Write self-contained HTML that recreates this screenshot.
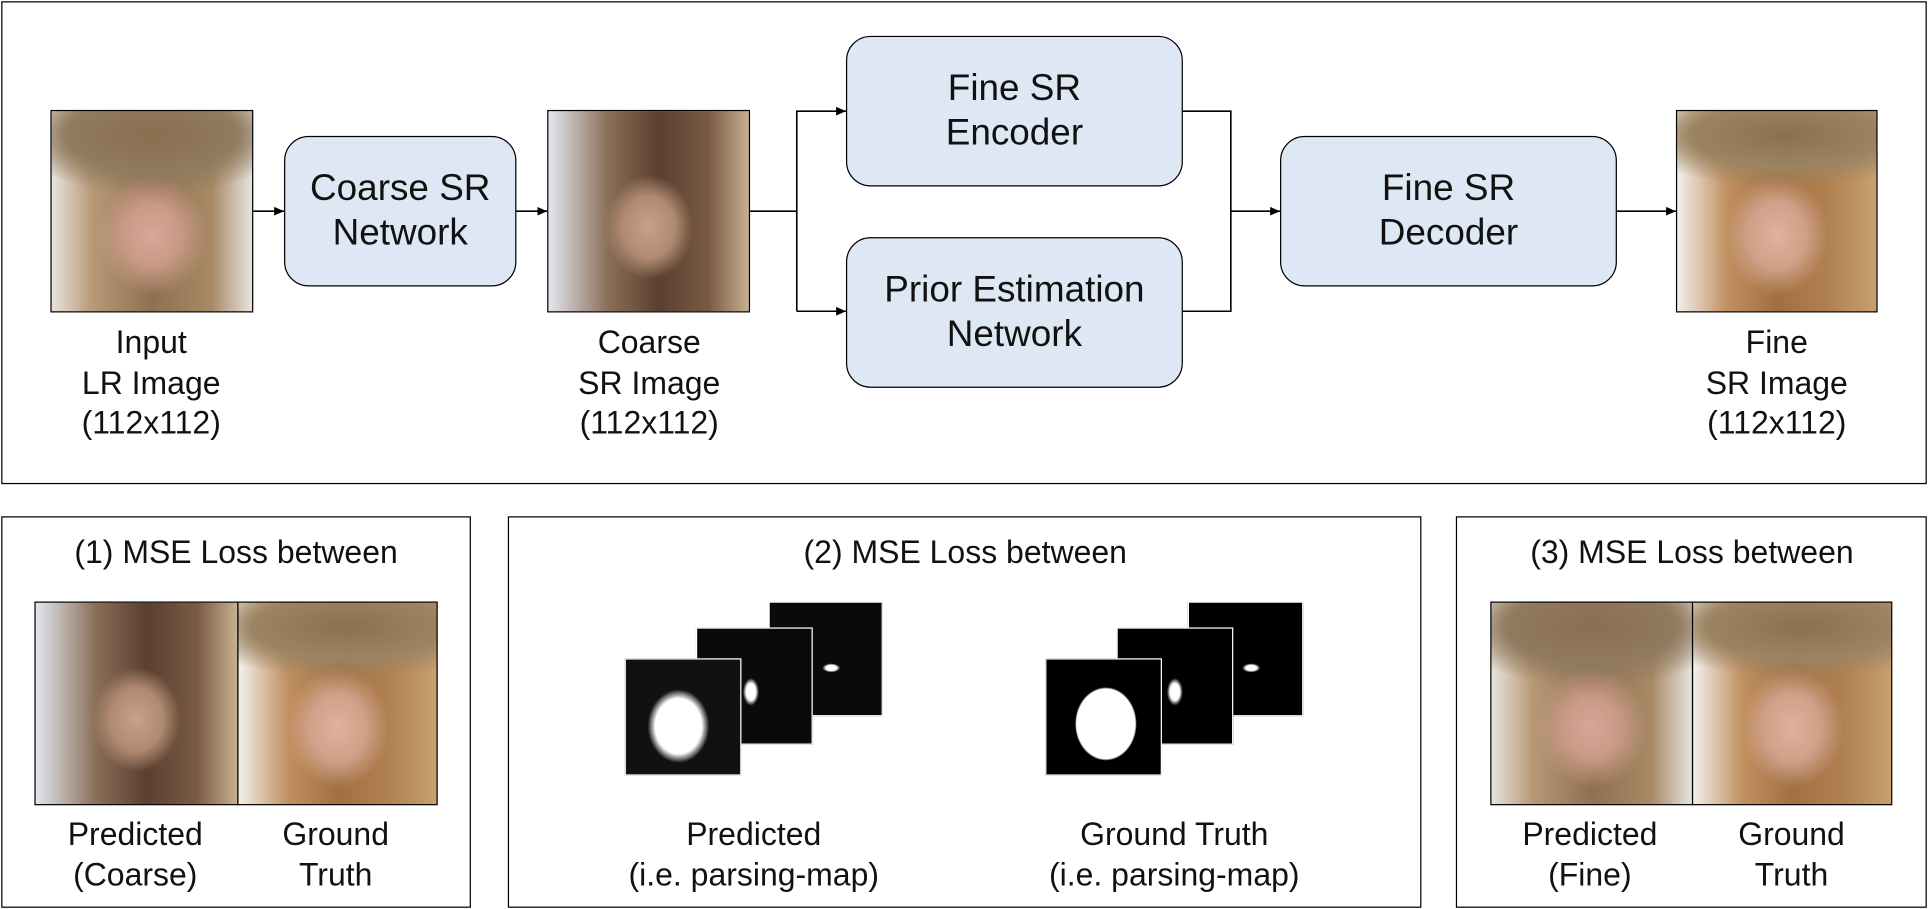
<!DOCTYPE html>
<html><head><meta charset="utf-8"><style>
html,body{margin:0;padding:0;background:#fff;overflow:hidden}
#w{position:absolute;left:0;top:0;width:1568px;height:736px;transform:scale(1.2296,1.2351);transform-origin:0 0;font-family:"Liberation Sans","Noto Sans CJK KR",sans-serif;color:#111}
.a{position:absolute;box-sizing:border-box}
.frame{border:1.3px solid #000}
.node{border:1.3px solid #000;background:#dee8f4;border-radius:20px;display:flex;align-items:center;justify-content:center;text-align:center;font-size:30px;line-height:36px}
.lbl{position:absolute;text-align:center;font-size:26px;line-height:32.5px;transform:translateX(-50%);white-space:nowrap}
.face{border:1.2px solid #000;overflow:hidden}
.blur{background:
 radial-gradient(ellipse 28% 30% at 50% 62%,#d9a598 0%,#c99a86 50%,rgba(180,140,110,0) 100%),
 radial-gradient(ellipse 70% 30% at 50% 12%,#8a6e50 0%,#917a5e 60%,rgba(150,130,100,0) 100%),
 linear-gradient(90deg,#e8e4df 0%,#b89a78 20%,#8f7050 50%,#a88a66 80%,#e6e3e0 100%)}
.sharp{background:
 radial-gradient(ellipse 26% 30% at 50% 62%,#e2b09c 0%,#d2a088 55%,rgba(170,120,80,0) 100%),
 radial-gradient(ellipse 80% 26% at 55% 12%,#8a7050 0%,#9c8462 60%,rgba(200,190,170,0) 100%),
 linear-gradient(90deg,#f2f0ec 0%,#c09060 25%,#a07040 50%,#b08050 75%,#c8a070 100%)}
.dark{background:radial-gradient(ellipse 22% 26% at 50% 58%,#c9a08c 0%,#b08a70 60%,rgba(0,0,0,0) 100%),linear-gradient(90deg,#e3e6ee 0%,#8a6e58 30%,#5a4030 55%,#7a5a44 80%,#c8b090 100%)}
.map{background:#0a0a0a;border:1.2px solid #fff}
</style></head><body><div id="w">
<div class="a frame" style="left:1px;top:1px;width:1566px;height:391px"></div>

<div class="a face blur" style="left:41px;top:89px;width:165px;height:164px"></div>
<div class="a face dark" style="left:445px;top:89px;width:165px;height:164px"></div>
<div class="a face sharp" style="left:1363px;top:89px;width:164px;height:164px"></div>

<div class="a node" style="left:231px;top:110px;width:189px;height:122px">Coarse SR<br>Network</div>
<div class="a node" style="left:688px;top:29px;width:274px;height:122px">Fine SR<br>Encoder</div>
<div class="a node" style="left:688px;top:192px;width:274px;height:122px">Prior Estimation<br>Network</div>
<div class="a node" style="left:1041px;top:110px;width:274px;height:122px">Fine SR<br>Decoder</div>

<svg class="a" style="left:0;top:0" width="1568" height="400">
<defs><marker id="m" markerWidth="8" markerHeight="8" refX="8" refY="4" orient="auto" markerUnits="userSpaceOnUse"><path d="M0,0.5L8,4L0,7.5z" fill="#000"/></marker></defs>
<g stroke="#000" stroke-width="1.3" fill="none">
<line x1="206" y1="171" x2="231" y2="171" marker-end="url(#m)"/>
<line x1="420" y1="171" x2="445" y2="171" marker-end="url(#m)"/>
<polyline points="610,171 648,171"/>
<polyline points="648,252 648,90 688,90" marker-end="url(#m)"/>
<polyline points="648,252 688,252" marker-end="url(#m)"/>
<polyline points="962,90 1001,90 1001,252 962,252"/>
<line x1="1001" y1="171" x2="1041" y2="171" marker-end="url(#m)"/>
<line x1="1315" y1="171" x2="1363" y2="171" marker-end="url(#m)"/>
</g></svg>

<div class="lbl" style="left:123px;top:261px">Input<br>LR Image<br>(112x112)</div>
<div class="lbl" style="left:528px;top:261px">Coarse<br>SR Image<br>(112x112)</div>
<div class="lbl" style="left:1445px;top:261px">Fine<br>SR Image<br>(112x112)</div>

<div class="a frame" style="left:1px;top:418px;width:382px;height:317px"></div>
<div class="a frame" style="left:413px;top:418px;width:743px;height:317px"></div>
<div class="a frame" style="left:1184px;top:418px;width:383px;height:317px"></div>

<div class="lbl" style="left:192px;top:431px">(1) MSE Loss between</div>
<div class="lbl" style="left:785px;top:431px">(2) MSE Loss between</div>
<div class="lbl" style="left:1376px;top:431px">(3) MSE Loss between</div>

<div class="a face dark" style="left:28px;top:487px;width:166px;height:165px"></div>
<div class="a face sharp" style="left:193px;top:487px;width:163px;height:165px"></div>
<div class="a face blur" style="left:1212px;top:487px;width:165px;height:165px"></div>
<div class="a face sharp" style="left:1376px;top:487px;width:163px;height:165px"></div>

<div class="a map" style="left:625px;top:487px;width:93px;height:93px;background:radial-gradient(ellipse 8% 4% at 55% 58%,#fff 0%,#fff 60%,transparent 100%),#0a0a0a"></div>
<div class="a map" style="left:566px;top:508px;width:95px;height:95px;background:radial-gradient(ellipse 7% 12% at 47% 55%,#fff 0%,#fff 60%,transparent 100%),#0a0a0a"></div>
<div class="a map" style="left:508px;top:533px;width:95px;height:95px;background:radial-gradient(ellipse 27% 32% at 46% 58%,#fff 0%,#fff 75%,rgba(17,17,17,0) 100%),#111"></div>

<div class="a map" style="left:966px;top:487px;width:94px;height:93px;background:radial-gradient(ellipse 8% 4% at 55% 58%,#fff 0%,#fff 60%,transparent 100%),#000"></div>
<div class="a map" style="left:908px;top:508px;width:95px;height:95px;background:radial-gradient(ellipse 7% 12% at 50% 55%,#fff 0%,#fff 60%,transparent 100%),#000"></div>
<div class="a map" style="left:850px;top:533px;width:95px;height:95px;background:radial-gradient(ellipse 27% 32% at 52% 56%,#fff 0%,#fff 95%,rgba(0,0,0,0) 100%),#000"></div>

<div class="lbl" style="left:110px;top:659px">Predicted<br>(Coarse)</div>
<div class="lbl" style="left:273px;top:659px">Ground<br>Truth</div>
<div class="lbl" style="left:613px;top:659px">Predicted<br>(i.e. parsing-map)</div>
<div class="lbl" style="left:955px;top:659px">Ground Truth<br>(i.e. parsing-map)</div>
<div class="lbl" style="left:1293px;top:659px">Predicted<br>(Fine)</div>
<div class="lbl" style="left:1457px;top:659px">Ground<br>Truth</div>
</div></body></html>
